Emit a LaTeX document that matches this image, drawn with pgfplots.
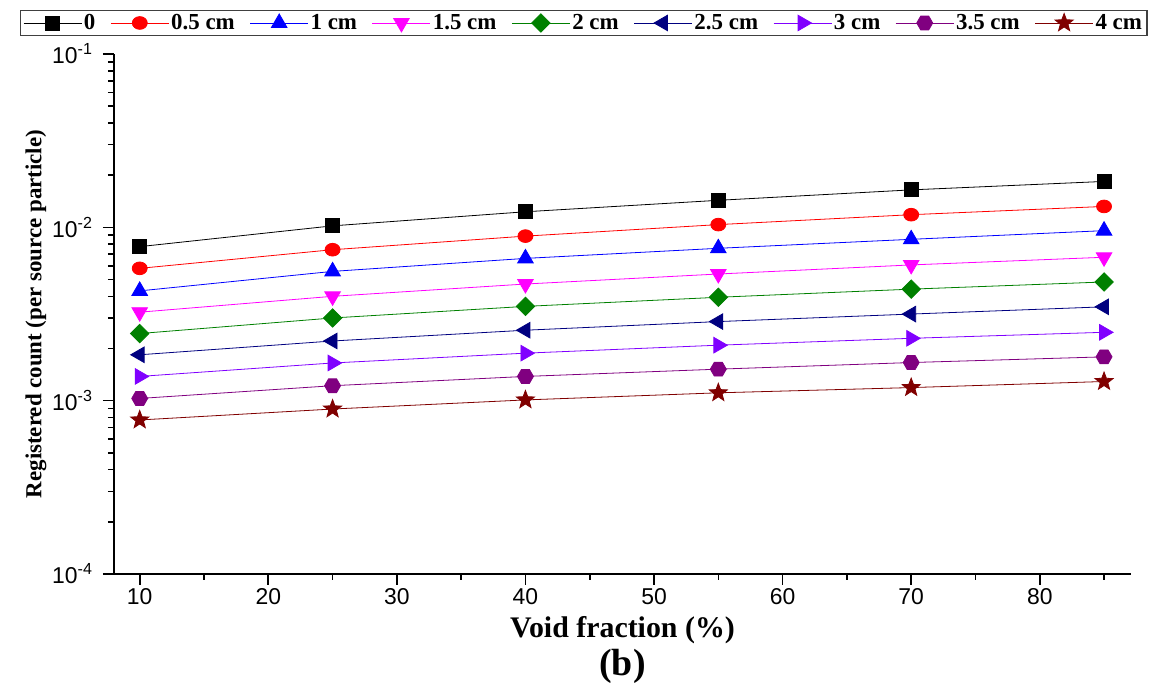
\documentclass[border=0pt]{standalone}
\usepackage{fontspec}
\setmainfont{Liberation Serif}
\newfontfamily\arial{Liberation Sans}
\usepackage{pgfplots}
\usepackage{pgfplotstable}
\pgfplotsset{compat=1.18}
\usetikzlibrary{plotmarks}

\definecolor{cred}{RGB}{255,0,0}
\definecolor{cblue}{RGB}{0,0,255}
\definecolor{cmag}{RGB}{255,0,255}
\definecolor{cgreen}{RGB}{0,128,0}
\definecolor{cnavy}{RGB}{0,0,128}
\definecolor{cviolet}{RGB}{128,0,255}
\definecolor{cpurple}{RGB}{128,0,128}
\definecolor{cwine}{RGB}{128,0,0}

\pgfdeclareplotmark{hexagon*}{%
  \pgfpathmoveto{\pgfqpointpolar{0}{\pgfplotmarksize}}%
  \pgfpathlineto{\pgfqpointpolar{60}{\pgfplotmarksize}}%
  \pgfpathlineto{\pgfqpointpolar{120}{\pgfplotmarksize}}%
  \pgfpathlineto{\pgfqpointpolar{180}{\pgfplotmarksize}}%
  \pgfpathlineto{\pgfqpointpolar{240}{\pgfplotmarksize}}%
  \pgfpathlineto{\pgfqpointpolar{300}{\pgfplotmarksize}}%
  \pgfpathclose
  \pgfusepathqfillstroke}
\pgfdeclareplotmark{fstar}{%
  \pgfpathmoveto{\pgfqpointpolar{90}{\pgfplotmarksize}}%
  \pgfpathlineto{\pgfqpointpolar{126}{0.42\pgfplotmarksize}}%
  \pgfpathlineto{\pgfqpointpolar{162}{\pgfplotmarksize}}%
  \pgfpathlineto{\pgfqpointpolar{198}{0.42\pgfplotmarksize}}%
  \pgfpathlineto{\pgfqpointpolar{234}{\pgfplotmarksize}}%
  \pgfpathlineto{\pgfqpointpolar{270}{0.42\pgfplotmarksize}}%
  \pgfpathlineto{\pgfqpointpolar{306}{\pgfplotmarksize}}%
  \pgfpathlineto{\pgfqpointpolar{342}{0.42\pgfplotmarksize}}%
  \pgfpathlineto{\pgfqpointpolar{18}{\pgfplotmarksize}}%
  \pgfpathlineto{\pgfqpointpolar{54}{0.42\pgfplotmarksize}}%
  \pgfpathclose
  \pgfusepathqfillstroke}

\pgfplotstableread{
x s0 s05 s1 s15 s2 s25 s3 s35 s4
10 0.00774 0.0058 0.0043 0.00324 0.00244 0.00184 0.00138 0.00103 0.000774
25 0.0102 0.00743 0.00557 0.0040 0.0030 0.00221 0.00165 0.00122 0.000895
40 0.0123 0.0089 0.00662 0.00471 0.0035 0.00255 0.00188 0.00138 0.00101
55 0.01432 0.01037 0.00757 0.00538 0.00395 0.00286 0.00209 0.00152 0.00111
70 0.01645 0.01183 0.00853 0.00607 0.0044 0.00316 0.00229 0.00166 0.00119
85 0.0184 0.0132 0.00957 0.00672 0.00484 0.00348 0.00248 0.00179 0.00129
}\datatable

\begin{document}
\begin{tikzpicture}
\useasboundingbox (-114bp,-114bp) rectangle (1042bp,574bp);
\begin{axis}[
  scale only axis, width=1017bp, height=520bp,
  at={(0,0)}, anchor=south west, clip=false,
  ymode=log, ymin=1e-4, ymax=1e-1,
  xmin=8, xmax=87.1,
  axis lines*=left,
  axis line style={line width=1.6bp, black},
  tick align=outside,
  xtick={10,20,...,80}, minor xtick={15,25,...,85},
  ytick={1e-4,1e-3,1e-2,1e-1},
  yticklabels={10\textsuperscript{-4},10\textsuperscript{-3},10\textsuperscript{-2},10\textsuperscript{-1}},
  minor ytick={2e-4,3e-4,4e-4,5e-4,6e-4,7e-4,8e-4,9e-4,2e-3,3e-3,4e-3,5e-3,6e-3,7e-3,8e-3,9e-3,2e-2,3e-2,4e-2,5e-2,6e-2,7e-2,8e-2,9e-2},
  major tick length=11bp, minor tick length=6bp,
  every tick/.style={line width=1.6bp, black},
  ticklabel style={font=\arial\fontsize{23}{23}\selectfont},
  xticklabel style={/pgf/number format/assume math mode=true},
  yticklabel style={xshift=-7bp},
  xlabel={Void fraction (\%)},
  ylabel={Registered count (per source particle)},
  xlabel style={font=\bfseries\fontsize{30}{32}\selectfont, yshift=-5bp},
  ylabel style={font=\bfseries\fontsize{23}{25}\selectfont, yshift=-1bp},
  legend columns=9,
  legend style={at={(0.4617,1.0846)}, anchor=north, draw=black!75, line width=1.2bp,
    font=\bfseries\fontsize{23}{25}\selectfont, inner xsep=3bp, inner ysep=2bp,
    /tikz/every even column/.append style={column sep=13bp}},
  legend image code/.code={\draw[mark repeat=2,mark phase=2,#1] plot coordinates {(0bp,0bp) (29bp,0bp) (58bp,0bp)};},
  every axis plot/.append style={line width=0.8bp},
]
\addplot[black, mark=square*, mark size=7bp] table[x=x,y=s0] {\datatable};
\addlegendentry{0}
\addplot[cred, mark=*, mark size=7.5bp, mark options={yscale=0.85}] table[x=x,y=s05] {\datatable};
\addlegendentry{0.5 cm}
\addplot[cblue, mark=triangle*, mark size=9bp] table[x=x,y=s1] {\datatable};
\addlegendentry{1 cm}
\addplot[cmag, mark=triangle*, mark size=9bp, mark options={rotate=180}] table[x=x,y=s15] {\datatable};
\addlegendentry{1.5 cm}
\addplot[cgreen, mark=square*, mark size=6.5bp, mark options={rotate=45}] table[x=x,y=s2] {\datatable};
\addlegendentry{2 cm}
\addplot[cnavy, mark=triangle*, mark size=9bp, mark options={rotate=90}] table[x=x,y=s25] {\datatable};
\addlegendentry{2.5 cm}
\addplot[cviolet, mark=triangle*, mark size=9bp, mark options={rotate=-90}] table[x=x,y=s3] {\datatable};
\addlegendentry{3 cm}
\addplot[cpurple, mark=hexagon*, mark size=8bp] table[x=x,y=s35] {\datatable};
\addlegendentry{3.5 cm}
\addplot[cwine, mark=fstar, mark size=9.5bp] table[x=x,y=s4] {\datatable};
\addlegendentry{4 cm}
\node[font=\bfseries\fontsize{38}{40}\selectfont] at (rel axis cs:0.5,-0.178) {(b)};
\end{axis}
\end{tikzpicture}
\end{document}
